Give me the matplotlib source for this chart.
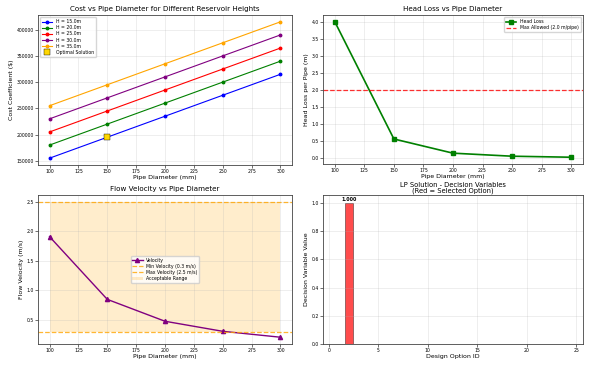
import matplotlib.pyplot as plt
import numpy as np

# data
diameters = [100, 150, 200, 250, 300]
heights = [15.0, 20.0, 25.0, 30.0, 35.0]
cost_h15 = [155000, 195000, 235000, 275000, 315000]
cost_h20 = [180000, 220000, 260000, 300000, 340000]
cost_h25 = [205000, 245000, 285000, 325000, 365000]
cost_h30 = [230000, 270000, 310000, 350000, 390000]
cost_h35 = [255000, 295000, 335000, 375000, 415000]
cost_colors = ['blue', 'green', 'red', 'purple', 'orange']
opt_diameter = 150
opt_cost = 195000

head_loss = [4.02, 0.55, 0.13, 0.04, 0.01]
max_head_loss = 2.0

velocity = [1.91, 0.85, 0.48, 0.31, 0.21]
v_min = 0.3
v_max = 2.5

option_ids = list(range(1, 26))
decision_values = [0.0] * 25
decision_values[1] = 1.0

fs_title = 5.1
fs_label = 4.5
fs_tick = 3.3
fs_leg = 3.3

fig = plt.figure(figsize=(5.99, 3.65), dpi=100)
ax1 = fig.add_axes([38/599, 1 - 165/365, 254/599, 150/365])
ax2 = fig.add_axes([323/599, 1 - 164/365, 260/599, 149/365])
ax3 = fig.add_axes([38/599, 1 - 344/365, 254/599, 149/365])
ax4 = fig.add_axes([323/599, 1 - 344/365, 260/599, 149/365])

# cost plot
for h, c, col in zip(heights, [cost_h15, cost_h20, cost_h25, cost_h30, cost_h35], cost_colors):
    ax1.plot(diameters, c, marker='o', color=col, linewidth=0.8, markersize=1.8, label=f'H = {h}m')
ax1.plot(opt_diameter, opt_cost, marker='s', color='gold', markeredgecolor='black',
         markeredgewidth=0.3, markersize=5, linestyle='none', label='Optimal Solution')
ax1.set_title('Cost vs Pipe Diameter for Different Reservoir Heights', fontsize=fs_title, pad=3)
ax1.set_xlabel('Pipe Diameter (mm)', fontsize=fs_label, labelpad=0.5)
ax1.set_ylabel('Cost Coefficient ($)', fontsize=fs_label, labelpad=2)
ax1.legend(fontsize=fs_leg, loc='upper left', handlelength=2.2, borderpad=0.4, labelspacing=0.25)
ax1.set_yticks(np.arange(150000, 400001, 50000))

# head loss plot
ax2.plot(diameters, head_loss, marker='s', color='green', linewidth=1.2, markersize=3, label='Head Loss')
ax2.axhline(max_head_loss, color='red', linestyle='--', linewidth=0.9, alpha=0.8,
            label=f'Max Allowed ({max_head_loss} m/pipe)')
ax2.set_title('Head Loss vs Pipe Diameter', fontsize=fs_title, pad=3)
ax2.set_xlabel('Pipe Diameter (mm)', fontsize=fs_label, labelpad=0.5)
ax2.set_ylabel('Head Loss per Pipe (m)', fontsize=fs_label, labelpad=2)
ax2.legend(fontsize=fs_leg, loc='upper right', handlelength=2.2, labelspacing=0.25)

# velocity plot
ax3.plot(diameters, velocity, marker='^', color='purple', linewidth=1.0, markersize=3, label='Velocity')
ax3.axhline(v_min, color='orange', linestyle='--', linewidth=0.9, alpha=0.8, label=f'Min Velocity ({v_min} m/s)')
ax3.axhline(v_max, color='orange', linestyle='--', linewidth=0.9, alpha=0.8, label=f'Max Velocity ({v_max} m/s)')
ax3.fill_between(diameters, v_min, v_max, color='orange', alpha=0.2, linewidth=0, label='Acceptable Range')
ax3.set_title('Flow Velocity vs Pipe Diameter', fontsize=fs_title, pad=3)
ax3.set_xlabel('Pipe Diameter (mm)', fontsize=fs_label, labelpad=0.5)
ax3.set_ylabel('Flow Velocity (m/s)', fontsize=fs_label, labelpad=2)
ax3.legend(fontsize=fs_leg, loc='center', handlelength=2.2, labelspacing=0.25)

# decision variables
bar_colors = ['red' if v > 0.5 else 'lightblue' for v in decision_values]
bars = ax4.bar(option_ids, decision_values, color=bar_colors, alpha=0.7, edgecolor='black', linewidth=0.4)
for b, v in zip(bars, decision_values):
    if v > 0.5:
        ax4.text(b.get_x() + b.get_width() / 2, v + 0.003, f'{v:.3f}', ha='center', va='bottom',
                 fontsize=3.4, fontweight='bold')
ax4.set_title('LP Solution - Decision Variables\n(Red = Selected Option)', fontsize=fs_title - 0.2,
              pad=1.5, linespacing=0.95)
ax4.set_xlabel('Design Option ID', fontsize=fs_label, labelpad=0.5)
ax4.set_ylabel('Decision Variable Value', fontsize=fs_label, labelpad=2)
ax4.set_xlim(-0.6, 25.7)
ax4.set_ylim(0, 1.055)

for ax in [ax1, ax2, ax3, ax4]:
    ax.grid(True, alpha=0.3, linewidth=0.5)
    ax.tick_params(labelsize=fs_tick, length=2, width=0.4, pad=1)
    for s in ax.spines.values():
        s.set_linewidth(0.6)
        s.set_color('#444444')
for ax in [ax1, ax2, ax3]:
    ax.set_xticks(np.arange(100, 301, 25))

fig.savefig('out.png', dpi=100)
